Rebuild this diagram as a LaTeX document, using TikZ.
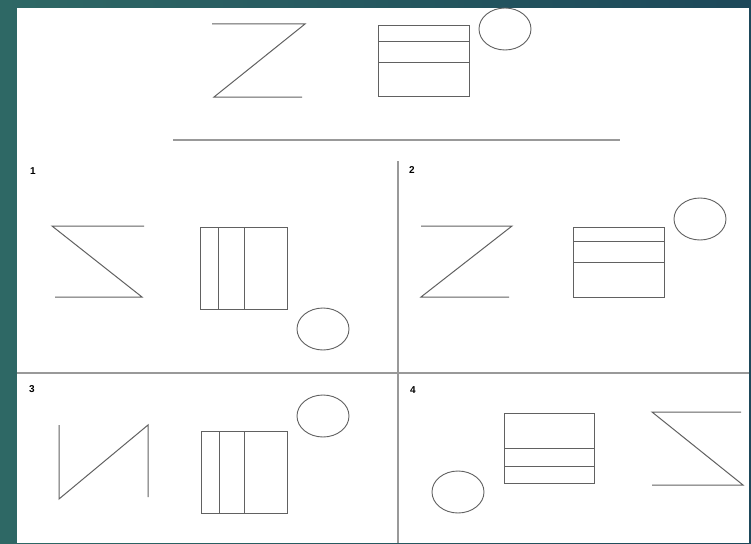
\documentclass[tikz,border=0pt]{standalone}
\usepackage{fontspec}
\setsansfont{Liberation Sans}
\definecolor{tealL}{RGB}{46,104,101}
\definecolor{tealR}{RGB}{29,72,90}
\tikzset{Qfig/.style={draw=black!62,line width=1pt},
         Qrule/.style={draw=black!40,line width=1.8pt},
         Qnum/.style={font=\sffamily\bfseries,inner sep=0pt}}

\begin{document}
\begin{tikzpicture}[x=1pt,y=-1pt]
    \useasboundingbox (0,0) rectangle (751,543);
    \fill[left color=tealL,right color=tealR] (0,0) rectangle (751,543);
    \fill[white] (17,8) rectangle (749,543);
    % rules and panels
    \draw[Qrule] (173,140) -- (620,140);
    \draw[Qrule] (398,161) -- (398,543);
    \draw[Qrule] (17,373) -- (749,373);
    \foreach \x/\y/\n in {33/171/1,412/170/2,32/389/3,413/390/4}
      {\node[Qnum] (num\n) at (\x,\y) {\n};}
    % zigzags
    \draw[Qfig] (212,24) -- (305,24) -- (214,97) -- (302,97);
    \draw[Qfig] (144,226) -- (52,226) -- (142,297) -- (55,297);
    \draw[Qfig] (421,226) -- (512,226) -- (421,297) -- (509,297);
    \draw[Qfig] (59,425) -- (59,499) -- (148,425) -- (148,497);
    \draw[Qfig] (741,412) -- (652,412) -- (743,485) -- (652,485);
    % boxes with bars
    \foreach \xa/\ya/\xb/\yb/\ua/\ub in {378/26/469/96/42/62,573/227/664/297/241/262,504/413/594/483/448/466}
      {\draw[Qfig] (\xa,\ya) rectangle (\xb,\yb) (\xa,\ua) -- (\xb,\ua) (\xa,\ub) -- (\xb,\ub);}
    \foreach \xa/\ya/\xb/\yb/\ua/\ub in {200/227/287/309/218/244,201/431/287/513/219/244}
      {\draw[Qfig] (\xa,\ya) rectangle (\xb,\yb) (\ua,\ya) -- (\ua,\yb) (\ub,\ya) -- (\ub,\yb);}
    % rings
    \foreach \x/\y in {505/29,323/329,700/219,323/416,458/492}
      {\draw[Qfig,line width=0.9pt] (\x,\y) ellipse [x radius=26,y radius=21];}
  \end{tikzpicture}
\end{document}
